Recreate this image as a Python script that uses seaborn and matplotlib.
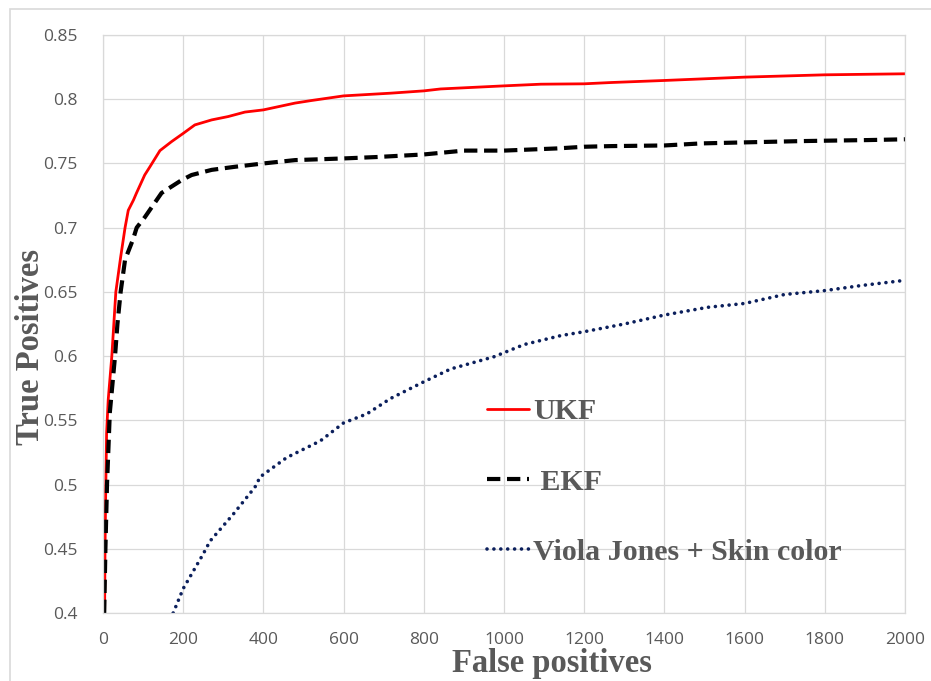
import numpy as np
import pandas as pd
import matplotlib
matplotlib.use("Agg")
import matplotlib.pyplot as plt
from matplotlib.patches import Rectangle
import seaborn as sns

# values
ukf_fp = [4, 5, 7, 9, 13, 22, 32, 44, 55, 63, 76, 83, 104, 117, 142, 171, 200, 229, 271,
          312, 354, 400, 479, 520, 600, 717, 800, 842, 1000, 1092, 1200, 1267, 1400, 1600, 1800, 2000]
ukf_tp = [0.40, 0.45, 0.50, 0.54, 0.566, 0.60, 0.65, 0.677, 0.70, 0.7135, 0.7215, 0.7266, 0.741,
          0.7474, 0.760, 0.767, 0.7734, 0.780, 0.7839, 0.7865, 0.790, 0.7917, 0.797, 0.799, 0.8026,
          0.8047, 0.8065, 0.808, 0.8104, 0.8117, 0.812, 0.813, 0.8146, 0.8172, 0.819, 0.8198]

ekf_fp = [3, 6, 10, 17, 30, 36, 44, 55, 75, 84, 104, 146, 196, 221, 271, 329, 400, 479, 600,
          683, 800, 900, 1000, 1133, 1200, 1267, 1400, 1492, 1600, 1742, 1800, 1908, 2000]
ekf_tp = [0.40, 0.45, 0.50, 0.556, 0.60, 0.625, 0.65, 0.675, 0.691, 0.70, 0.708, 0.727, 0.737,
          0.741, 0.745, 0.7474, 0.75, 0.7526, 0.7539, 0.755, 0.757, 0.760, 0.760, 0.7617, 0.763,
          0.7635, 0.7640, 0.7656, 0.7664, 0.7674, 0.7677, 0.7682, 0.7688]

vj_fp = [175, 200, 250, 267, 325, 379, 392, 458, 542, 600, 658, 717, 800, 867, 975, 1050, 1142,
         1200, 1300, 1400, 1508, 1600, 1700, 1800, 1892, 2000]
vj_tp = [0.40, 0.419, 0.446, 0.456, 0.477, 0.498, 0.506, 0.521, 0.534, 0.548, 0.555, 0.567, 0.580,
         0.590, 0.5995, 0.609, 0.616, 0.619, 0.625, 0.632, 0.638, 0.641, 0.648, 0.651, 0.655, 0.659]

x_ticks = [0, 200, 400, 600, 800, 1000, 1200, 1400, 1600, 1800, 2000]
y_ticks = [0.4, 0.45, 0.5, 0.55, 0.6, 0.65, 0.7, 0.75, 0.8, 0.85]
y_tick_labels = ["0.4", "0.45", "0.5", "0.55", "0.6", "0.65", "0.7", "0.75", "0.8", "0.85"]

grid_c = "#d9d9d9"
text_c = "#595959"

sns.set_style("whitegrid", {"grid.color": grid_c, "axes.edgecolor": grid_c})
plt.rcParams["font.family"] = ["Open Sans", "DejaVu Sans"]

fig = plt.figure(figsize=(9.31, 6.81), dpi=100)
ax = fig.add_axes([103 / 931, 1 - 613 / 681, 802 / 931, 578 / 681])

sns.lineplot(x=ukf_fp, y=ukf_tp, ax=ax, color="#ff0000", lw=2.0, estimator=None, sort=False,
             label="UKF")
sns.lineplot(x=ekf_fp, y=ekf_tp, ax=ax, color="black", lw=3.0, estimator=None, sort=False,
             label=" EKF", dashes=False)
sns.lineplot(x=vj_fp, y=vj_tp, ax=ax, color="#0b1f5c", lw=2.6, estimator=None, sort=False,
             label="Viola Jones + Skin color")

lines = ax.get_lines()
lines[1].set_dashes((3.2, 1.6))
lines[2].set_dashes((0.01, 1.9))
lines[2].set_dash_capstyle("round")

ax.set_xlim(0, 2000)
ax.set_ylim(0.4, 0.85)
ax.set_xticks(x_ticks)
ax.set_yticks(y_ticks)
ax.set_yticklabels(y_tick_labels)
ax.grid(True, color=grid_c, lw=0.9)
ax.tick_params(length=0, labelsize=12.5, labelcolor=text_c)
ax.tick_params(axis="x", pad=14)
ax.tick_params(axis="y", pad=18)
for s in ax.spines.values():
    s.set_color(grid_c)
    s.set_linewidth(0.9)

serif = {"family": ["Liberation Serif", "DejaVu Serif"], "weight": "bold"}
ax.set_xlabel("False positives", fontdict=serif, fontsize=23.5, color=text_c)
ax.set_ylabel("True Positives", fontdict=serif, fontsize=23.5, color=text_c)
ax.xaxis.set_label_coords((552 - 103) / 802, (613 - 648) / 578)
ax.yaxis.set_label_coords((46 - 103) / 802, (613 - 347) / 578)

leg = ax.legend(loc="center left", bbox_to_anchor=((487 - 103) / 802, (613 - 482) / 578),
                frameon=False, borderpad=0, borderaxespad=0, handlelength=1.4,
                handletextpad=0.15, labelspacing=1.45,
                prop={"family": "Liberation Serif", "weight": "bold", "size": 21.5})
for t in leg.get_texts():
    t.set_color(text_c)

# outer chart border (only top and left are visible in the reference)
fig.patches.append(Rectangle((10 / 931, -0.1), 1.2, 1.1 - 9 / 681, transform=fig.transFigure,
                             fill=False, edgecolor=grid_c, lw=1.2))

fig.savefig("out.png", dpi=100)
